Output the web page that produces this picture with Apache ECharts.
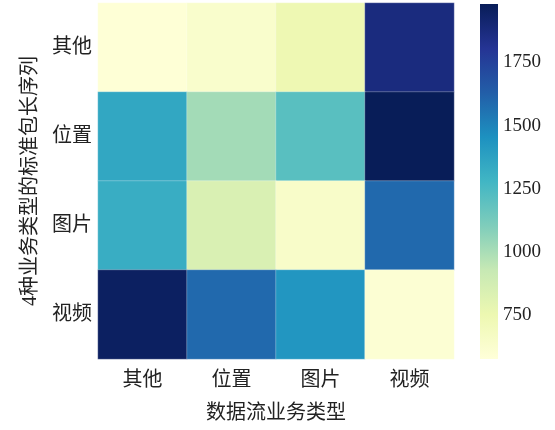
<!DOCTYPE html>
<html>
<head>
<meta charset="utf-8">
<script src="https://cdn.jsdelivr.net/npm/echarts@6/dist/echarts.min.js"></script>
<style>html,body{margin:0;padding:0;background:#fff;}#c{width:555px;height:430px;}</style>
</head>
<body>
<div id="c"></div>
<script>
var xCategories = ['其他', '位置', '图片', '视频'];
var yCategories = ['其他', '位置', '图片', '视频'];
// rows (top to bottom) : 其他, 位置, 图片, 视频 ; columns: 其他, 位置, 图片, 视频
var row其他 = [590, 635, 745, 1870];
var row位置 = [1350, 1015, 1210, 1980];
var row图片 = [1320, 845, 650, 1590];
var row视频 = [1955, 1590, 1430, 605];
var colorTicks = [750, 1000, 1250, 1500, 1750];
var vMin = 578, vMax = 1980;
var ylgnbu = ['#ffffd9','#edf8b1','#c7e9b4','#7fcdbb','#41b6c4','#1d91c0','#225ea8','#253494','#081d58'];

var rows = [row其他, row位置, row图片, row视频];
var data = [];
rows.forEach(function (r, yi) {
  r.forEach(function (v, xi) { data.push([xi, yi, v]); });
});
var stops = ylgnbu.map(function (c, i) { return {offset: i / (ylgnbu.length - 1), color: c}; });

var serifCJK = '"Liberation Serif", "Noto Sans CJK SC", serif';
var chart = echarts.init(document.getElementById('c'));
chart.setOption({
  animation: false,
  backgroundColor: '#fff',
  grid: [
    {left: 98, top: 3, width: 356, height: 356},
    {left: 480, top: 4, width: 18, height: 355, show: true, borderWidth: 0,
     backgroundColor: new echarts.graphic.LinearGradient(0, 1, 0, 0, stops)}
  ],
  xAxis: [
    {type: 'category', data: xCategories, gridIndex: 0, position: 'bottom',
     axisLine: {show: false}, axisTick: {show: false}, splitLine: {show: false},
     axisLabel: {fontFamily: serifCJK, fontSize: 20, color: '#222', margin: 12},
     name: '数据流业务类型', nameLocation: 'middle', nameGap: 45,
     nameTextStyle: {fontFamily: serifCJK, fontSize: 20, color: '#222'}},
    {type: 'value', gridIndex: 1, show: false, min: 0, max: 1}
  ],
  yAxis: [
    {type: 'category', data: yCategories, gridIndex: 0, inverse: true,
     axisLine: {show: false}, axisTick: {show: false}, splitLine: {show: false},
     axisLabel: {fontFamily: serifCJK, fontSize: 20, color: '#222', margin: 6},
     name: '4种业务类型的标准包长序列', nameLocation: 'middle', nameGap: 54, nameRotate: 90,
     nameTextStyle: {fontFamily: serifCJK, fontSize: 20, color: '#222'}},
    {type: 'value', gridIndex: 1, position: 'right', min: vMin, max: vMax,
     axisLine: {show: false}, splitLine: {show: false},
     axisTick: {show: false},
     axisLabel: {customValues: colorTicks, formatter: function (v) { return String(v); },
                 fontFamily: serifCJK, fontSize: 19, color: '#222', margin: 5}}
  ],
  visualMap: {
    type: 'continuous', min: vMin, max: vMax, seriesIndex: 0, show: false,
    inRange: {color: ylgnbu}
  },
  series: [{
    type: 'heatmap', xAxisIndex: 0, yAxisIndex: 0, data: data,
    itemStyle: {borderColor: 'rgba(255,255,255,0.45)', borderWidth: 0.6},
    label: {show: false}
  }]
});
</script>
</body>
</html>
